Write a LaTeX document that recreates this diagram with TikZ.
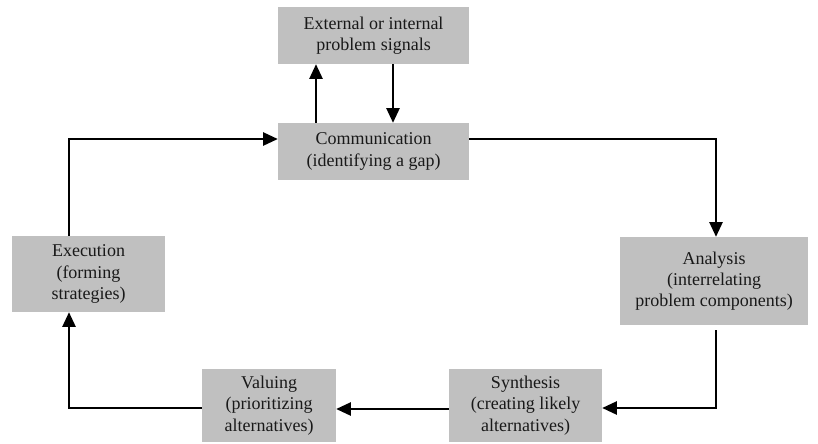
\documentclass[tikz,border=0pt]{standalone}
\usepackage{fontspec}
\setmainfont{Liberation Serif}
\usetikzlibrary{arrows.meta}
\definecolor{boxgray}{HTML}{C0C0C0}
\tikzset{
  stagebox/.style={fill=boxgray, draw=none, align=center, inner sep=0pt,
    font=\fontsize{13.5pt}{16pt}\selectfont, text=black!90},
  flow/.style={line width=1.2pt, -{Triangle[length=11pt,width=10pt]}}
}
\begin{document}
\begin{tikzpicture}[x=0.75pt,y=-0.75pt]
\useasboundingbox (0,0) rectangle (818,443);
% stage boxes (centres and sizes in px)
\node[stagebox, minimum width=191*0.75pt, minimum height=57*0.75pt] (signals) at (373.5,35.5) {External or internal\\problem signals};
\node[stagebox, minimum width=191*0.75pt, minimum height=57*0.75pt] (comm) at (373.5,151.5) {Communication\\(identifying a gap)};
\node[stagebox, minimum width=153*0.75pt, minimum height=76*0.75pt] (exec) at (88.5,274) {Execution\\(forming\\strategies)};
\node[stagebox, minimum width=188*0.75pt, minimum height=88*0.75pt] (anal) at (714,281) {Analysis\\(interrelating\\problem components)};
\node[stagebox, minimum width=153*0.75pt, minimum height=73*0.75pt] (synth) at (525.5,405.5) {Synthesis\\(creating likely\\alternatives)};
\node[stagebox, minimum width=134*0.75pt, minimum height=73*0.75pt] (valu) at (269,405.5) {Valuing\\(prioritizing\\alternatives)};
% connectors
\draw[flow] (comm.north -| 316,0) -- (signals.south -| 316,0);
\draw[flow] (signals.south -| 393,0) -- (comm.north -| 393,0);
\draw[flow] (comm.east |- 0,139) -| (anal.north -| 716,0);
\coordinate (abot) at (716,330);
\draw[flow] (abot) |- (synth.east |- 0,408);
\draw[flow] (synth.west |- 0,409) -- (valu.east |- 0,409);
\draw[flow] (valu.west |- 0,408) -| (exec.south -| 69,0);
\draw[flow] (exec.north -| 69,0) |- (comm.west |- 0,139);
\end{tikzpicture}
\end{document}
